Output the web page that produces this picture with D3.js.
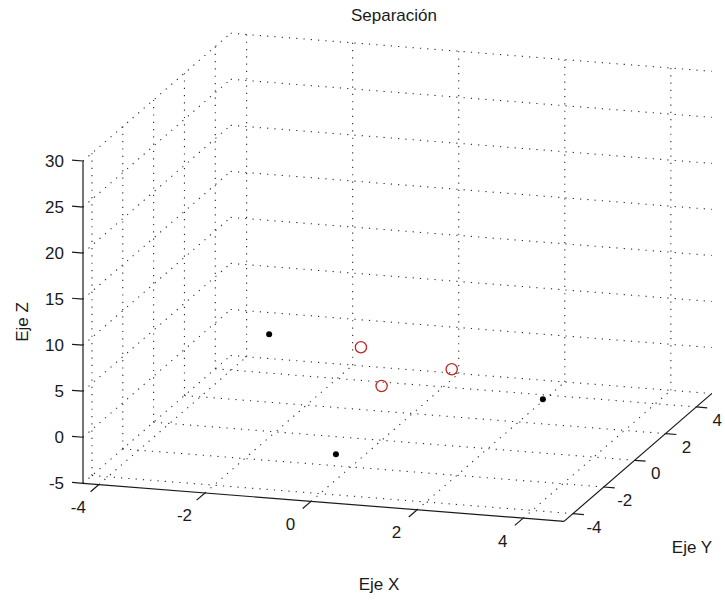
<!DOCTYPE html>
<html>
<head>
<meta charset="utf-8">
<script src="https://cdn.jsdelivr.net/npm/d3@7"></script>
<style>
  html, body { margin: 0; padding: 0; background: #fff; }
  svg text { font-family: "Liberation Sans", Arial, sans-serif; fill: #1a1a1a; }
</style>
</head>
<body>
<svg id="chart" width="725" height="602"></svg>
<script>
// Axis limits
const xLimits = [-4.3, 4.77];
const yLimits = [-4.58, 5];
const zLimits = [-5, 30];

// Tick values
const xTicks = [-4, -2, 0, 2, 4];
const yTicks = [-4, -2, 0, 2, 4];
const zTicks = [-5, 0, 5, 10, 15, 20, 25, 30];

// Points (black dots)
const pointsX = [-1.54, 0.01, 2.75];
const pointsY = [-2, -3, 1];
const pointsZ = [8.70, -2.17, -0.75];

// Separated points (red circles)
const sepX = [-0.10, 0.29, 1.03];
const sepY = [-1, -1, 1];
const sepZ = [6.50, 2.47, 1.73];

const titleText = "Separación";
const xLabel = "Eje X", yLabel = "Eje Y", zLabel = "Eje Z";

// Oblique projection of the unit cube onto the page
const origin = [83, 483.3];          // (xmin, ymin, zmin)
const xEdge = [481.0, 38.1];
const yEdge = [147.7, -127.8];
const zEdge = [0, -322.3];

const fx = d3.scaleLinear().domain(xLimits).range([0, 1]);
const fy = d3.scaleLinear().domain(yLimits).range([0, 1]);
const fz = d3.scaleLinear().domain(zLimits).range([0, 1]);

function proj(x, y, z) {
  const a = fx(x), b = fy(y), c = fz(z);
  return [
    origin[0] + a * xEdge[0] + b * yEdge[0] + c * zEdge[0],
    origin[1] + a * xEdge[1] + b * yEdge[1] + c * zEdge[1]
  ];
}
function unit(v) { const n = Math.hypot(v[0], v[1]); return [v[0] / n, v[1] / n]; }

const svg = d3.select("#chart");
const [x0, x1] = xLimits, [y0, y1] = yLimits, [z0, z1] = zLimits;

// Grid lines on the three back planes
const gridSegs = [];
xTicks.forEach(x => {
  gridSegs.push([proj(x, y0, z0), proj(x, y1, z0)]);   // floor
  gridSegs.push([proj(x, y1, z0), proj(x, y1, z1)]);   // back wall
});
yTicks.forEach(y => {
  gridSegs.push([proj(x0, y, z0), proj(x1, y, z0)]);   // floor
  gridSegs.push([proj(x0, y, z0), proj(x0, y, z1)]);   // side wall
});
zTicks.forEach(z => {
  gridSegs.push([proj(x0, y1, z), proj(x1, y1, z)]);   // back wall
  gridSegs.push([proj(x0, y0, z), proj(x0, y1, z)]);   // side wall
});

svg.append("g")
  .selectAll("line")
  .data(gridSegs)
  .join("line")
  .attr("x1", d => d[0][0]).attr("y1", d => d[0][1])
  .attr("x2", d => d[1][0]).attr("y2", d => d[1][1])
  .attr("stroke", "#2a2a2a")
  .attr("stroke-width", 1.1)
  .attr("stroke-dasharray", "1.2 6.1");

// Axis lines
const axisG = svg.append("g").attr("stroke", "#1a1a1a").attr("stroke-width", 1.2).attr("fill", "none");
const axisSegs = [
  [proj(x0, y0, z0), proj(x1, y0, z0)],
  [proj(x1, y0, z0), proj(x1, y1, z0)],
  [proj(x0, y0, z0), proj(x0, y0, z1)]
];
axisG.selectAll("line.axis").data(axisSegs).join("line")
  .attr("x1", d => d[0][0]).attr("y1", d => d[0][1])
  .attr("x2", d => d[1][0]).attr("y2", d => d[1][1]);

const tickLen = 11;
const dirNegY = unit([-yEdge[0], -yEdge[1]]);
const dirPosX = unit(xEdge);
const dirNegX = unit([-xEdge[0], -xEdge[1]]);

const labelG = svg.append("g").attr("font-size", 17);

// X ticks
xTicks.forEach(x => {
  const p = proj(x, y0, z0);
  axisG.append("line")
    .attr("x1", p[0]).attr("y1", p[1])
    .attr("x2", p[0] + dirNegY[0] * tickLen).attr("y2", p[1] + dirNegY[1] * tickLen);
  labelG.append("text")
    .attr("x", p[0] - 20.5).attr("y", p[1] + 23)
    .attr("text-anchor", "middle").attr("dominant-baseline", "central")
    .text(x);
});

// Y ticks
yTicks.forEach(y => {
  const p = proj(x1, y, z0);
  axisG.append("line")
    .attr("x1", p[0]).attr("y1", p[1])
    .attr("x2", p[0] + dirPosX[0] * tickLen).attr("y2", p[1] + dirPosX[1] * tickLen);
  labelG.append("text")
    .attr("x", p[0] + 21).attr("y", p[1] + 13.5)
    .attr("text-anchor", "middle").attr("dominant-baseline", "central")
    .text(y);
});

// Z ticks
zTicks.forEach(z => {
  const p = proj(x0, y0, z);
  axisG.append("line")
    .attr("x1", p[0]).attr("y1", p[1])
    .attr("x2", p[0] + dirNegX[0] * tickLen).attr("y2", p[1] + dirNegX[1] * tickLen);
  labelG.append("text")
    .attr("x", 64).attr("y", p[1])
    .attr("text-anchor", "end").attr("dominant-baseline", "central")
    .text(z);
});

// Axis titles
labelG.append("text").attr("x", 379).attr("y", 584)
  .attr("text-anchor", "middle").attr("dominant-baseline", "central").text(xLabel);
labelG.append("text").attr("x", 692).attr("y", 547)
  .attr("text-anchor", "middle").attr("dominant-baseline", "central").text(yLabel);
labelG.append("text").attr("transform", "translate(22,322) rotate(-90)")
  .attr("text-anchor", "middle").attr("dominant-baseline", "central").text(zLabel);

// Title
svg.append("text").attr("x", 394).attr("y", 15)
  .attr("text-anchor", "middle").attr("dominant-baseline", "central")
  .attr("font-size", 17).text(titleText);

// Black points
svg.append("g").selectAll("circle")
  .data(d3.range(pointsX.length))
  .join("circle")
  .attr("cx", i => proj(pointsX[i], pointsY[i], pointsZ[i])[0])
  .attr("cy", i => proj(pointsX[i], pointsY[i], pointsZ[i])[1])
  .attr("r", 3)
  .attr("fill", "#000");

// Red circles
svg.append("g").selectAll("circle")
  .data(d3.range(sepX.length))
  .join("circle")
  .attr("cx", i => proj(sepX[i], sepY[i], sepZ[i])[0])
  .attr("cy", i => proj(sepX[i], sepY[i], sepZ[i])[1])
  .attr("r", 5.6)
  .attr("fill", "none")
  .attr("stroke", "#c02525")
  .attr("stroke-width", 1.3);
</script>
</body>
</html>
